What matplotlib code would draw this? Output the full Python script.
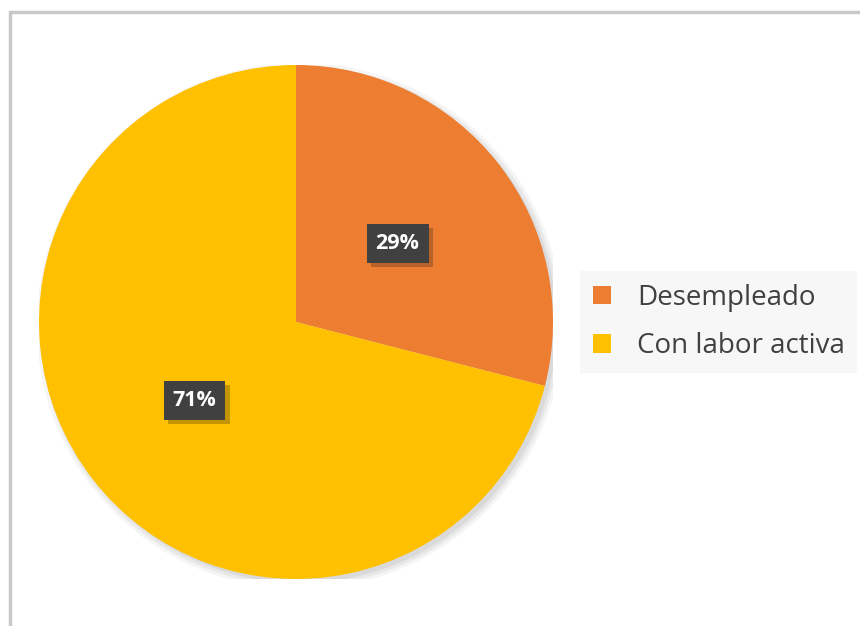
import matplotlib.pyplot as plt
import matplotlib.patheffects as pe
from matplotlib.patches import Rectangle, Circle

labels = ["Desempleado", "Con labor activa"]
values = [29, 71]
colors = ["#ED7D31", "#FFC000"]

fig = plt.figure(figsize=(8.6, 6.26), dpi=100)
fig.patch.set_facecolor("white")

# outer chart border (runs off the right and bottom edges)
fig.patches.append(Rectangle((9.5 / 860, -0.1), 1.2, 1 - 11.5 / 626 + 0.1,
                             transform=fig.transFigure, fill=False,
                             edgecolor="#C8C8C8", linewidth=2.5))

ax = fig.add_axes([39 / 860, 47 / 626, 514 / 860, 514 / 626])
# soft shadow behind the pie
for i, a in enumerate([0.04, 0.05, 0.06]):
    ax.add_patch(Circle((0.015, -0.015), 1.0 + 0.012 * (2 - i),
                        facecolor="black", alpha=a, edgecolor="none", zorder=0))
wedges, texts, autotexts = ax.pie(values, colors=colors, startangle=90,
                                  counterclock=False, autopct="%1.0f%%",
                                  pctdistance=0.5, radius=1.0,
                                  wedgeprops=dict(linewidth=0, zorder=1))
for t in autotexts:
    t.set_color("white")
    t.set_fontweight("bold")
    t.set_fontsize(15.5)
    t.set_family(["Open Sans", "DejaVu Sans"])
    t.set_zorder(3)
    t.set_bbox(dict(boxstyle="square,pad=0.42", facecolor="#404040",
                    edgecolor="none",
                    path_effects=[pe.SimplePatchShadow(offset=(3, -3), alpha=0.25),
                                  pe.Normal()]))
ax.set_xlim(-1, 1)
ax.set_ylim(-1, 1)
ax.set_aspect("equal")

leg = fig.legend(wedges, labels, loc="center left",
                 bbox_to_anchor=(580 / 860, 1 - 322 / 626),
                 frameon=True, fancybox=False,
                 prop={"family": ["Open Sans", "DejaVu Sans"], "size": 20},
                 handlelength=0.65, handleheight=0.65, handletextpad=0.95,
                 labelspacing=0.75, borderpad=0.45, borderaxespad=0)
leg.get_frame().set_facecolor("#F6F6F6")
leg.get_frame().set_edgecolor("none")
for t in leg.get_texts():
    t.set_color("#404040")

fig.savefig("out.png", dpi=100)
